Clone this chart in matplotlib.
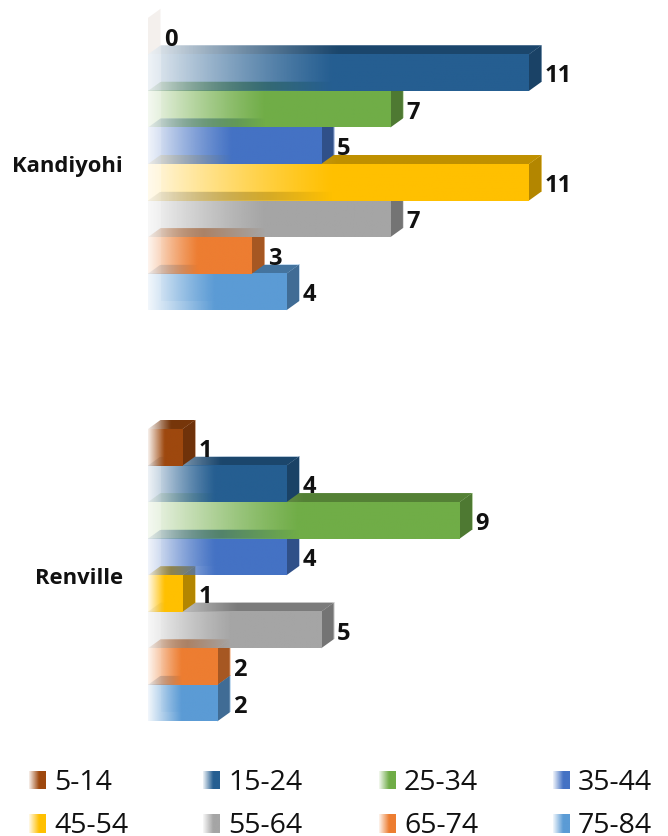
import matplotlib
matplotlib.use("Agg")
import matplotlib.pyplot as plt
import numpy as np
from matplotlib.colors import to_rgb
from matplotlib.patches import Polygon

plt.rcParams['font.family'] = ['Open Sans', 'DejaVu Sans']

age_groups = ['5-14', '15-24', '25-34', '35-44', '45-54', '55-64', '65-74', '75-84']
kandiyohi = [0, 11, 7, 5, 11, 7, 3, 4]
renville = [1, 4, 9, 4, 1, 5, 2, 2]
counties = ['Kandiyohi', 'Renville']
colors = ['#9E480E', '#255E91', '#70AD47', '#4472C4', '#FFC000', '#A5A5A5', '#ED7D31', '#5B9BD5']

W, H = 668, 837
X0, UNIT = 148, 34.63      # pixel position of value 0, pixels per unit
Y0, STEP = 18.8, 36.55     # pixel top of first band, pixels per band
GROUP_GAP = 11.25          # bands between the start of the two groups
DX, DY = 12.5 / UNIT, 9 / STEP   # 3d depth in data units
FADE = 0.48                # part of the bar covered by the fade in


def shade(color, factor):
    return tuple(c * factor for c in to_rgb(color))


def gradient(ax, color, x1, x2, y1, y2, clip=None, a_start=0.08, a_end=1.0):
    # horizontal fade from nearly clear to solid, ending at FADE of the bar
    n = 256
    t = np.clip(np.linspace(0, 1, n) / FADE, 0, 1)
    img = np.zeros((1, n, 4))
    img[..., :3] = to_rgb(color)
    img[..., 3] = a_start + (a_end - a_start) * t
    im = ax.imshow(img, extent=(x1, x2, y2, y1), aspect='auto', interpolation='bilinear', zorder=2)
    if clip is not None:
        patch = Polygon(clip, closed=True, transform=ax.transData, fill=False, edgecolor='none')
        ax.add_patch(patch)
        im.set_clip_path(patch)


def draw_bar(ax, value, top, color):
    bottom = top + 1
    # back face
    if value > 0:
        gradient(ax, color, DX, value + DX, top - DY, bottom - DY, a_start=0.05, a_end=0.35)
    # side face
    side_alpha = 1 if value > 0 else 0.07
    ax.add_patch(Polygon([(value, top), (value + DX, top - DY), (value + DX, bottom - DY), (value, bottom)],
                         closed=True, facecolor=shade(color, 0.7), edgecolor='none',
                         alpha=side_alpha, zorder=2))
    if value == 0:
        return
    # top face
    top_face = [(0, top), (DX, top - DY), (value + DX, top - DY), (value, top)]
    gradient(ax, shade(color, 0.75), 0, value + DX, top - DY, top, clip=top_face)
    # front face
    gradient(ax, color, 0, value, top, bottom)


fig = plt.figure(figsize=(W / 100, H / 100), dpi=100)
ax = fig.add_axes([0, 0, 1, 1])

for g, (county, values) in enumerate(zip(counties, [kandiyohi, renville])):
    offset = g * GROUP_GAP
    # lower bars first so the clear part of the upper ones shows them through
    for i in range(len(values) - 1, -1, -1):
        draw_bar(ax, values[i], offset + i, colors[i])
    for i, v in enumerate(values):
        ax.text(v + DX + 3.5 / UNIT, offset + i + 0.57, str(v), fontsize=17, fontweight='bold',
                color='#111111', va='center', ha='left', zorder=3)
    ax.text(-25 / UNIT, offset + 4.05, county, fontsize=15.8, fontweight='bold',
            color='#111111', va='center', ha='right', zorder=3)

ax.set_xlim(-X0 / UNIT, (W - X0) / UNIT)
ax.set_ylim((H - Y0) / STEP, -Y0 / STEP)
ax.axis('off')

# legend
legend_x = [29, 203, 379, 553]
legend_y = [781, 824]
for i, label in enumerate(age_groups):
    px = legend_x[i % 4]
    py = legend_y[i // 4]
    sw = fig.add_axes([px / W, 1 - (py + 9.5) / H, 17 / W, 19 / H])
    t = np.clip(np.linspace(0, 1, 64) / 0.6, 0, 1)
    img = np.zeros((1, 64, 4))
    img[..., :3] = to_rgb(colors[i])
    img[..., 3] = 0.08 + 0.92 * t
    sw.imshow(img, aspect='auto', interpolation='bilinear')
    sw.axis('off')
    fig.text((px + 25) / W, 1 - (py + 2) / H, label, fontsize=20.5, color='#111111', va='center', ha='left')

fig.savefig('out.png', dpi=100)
